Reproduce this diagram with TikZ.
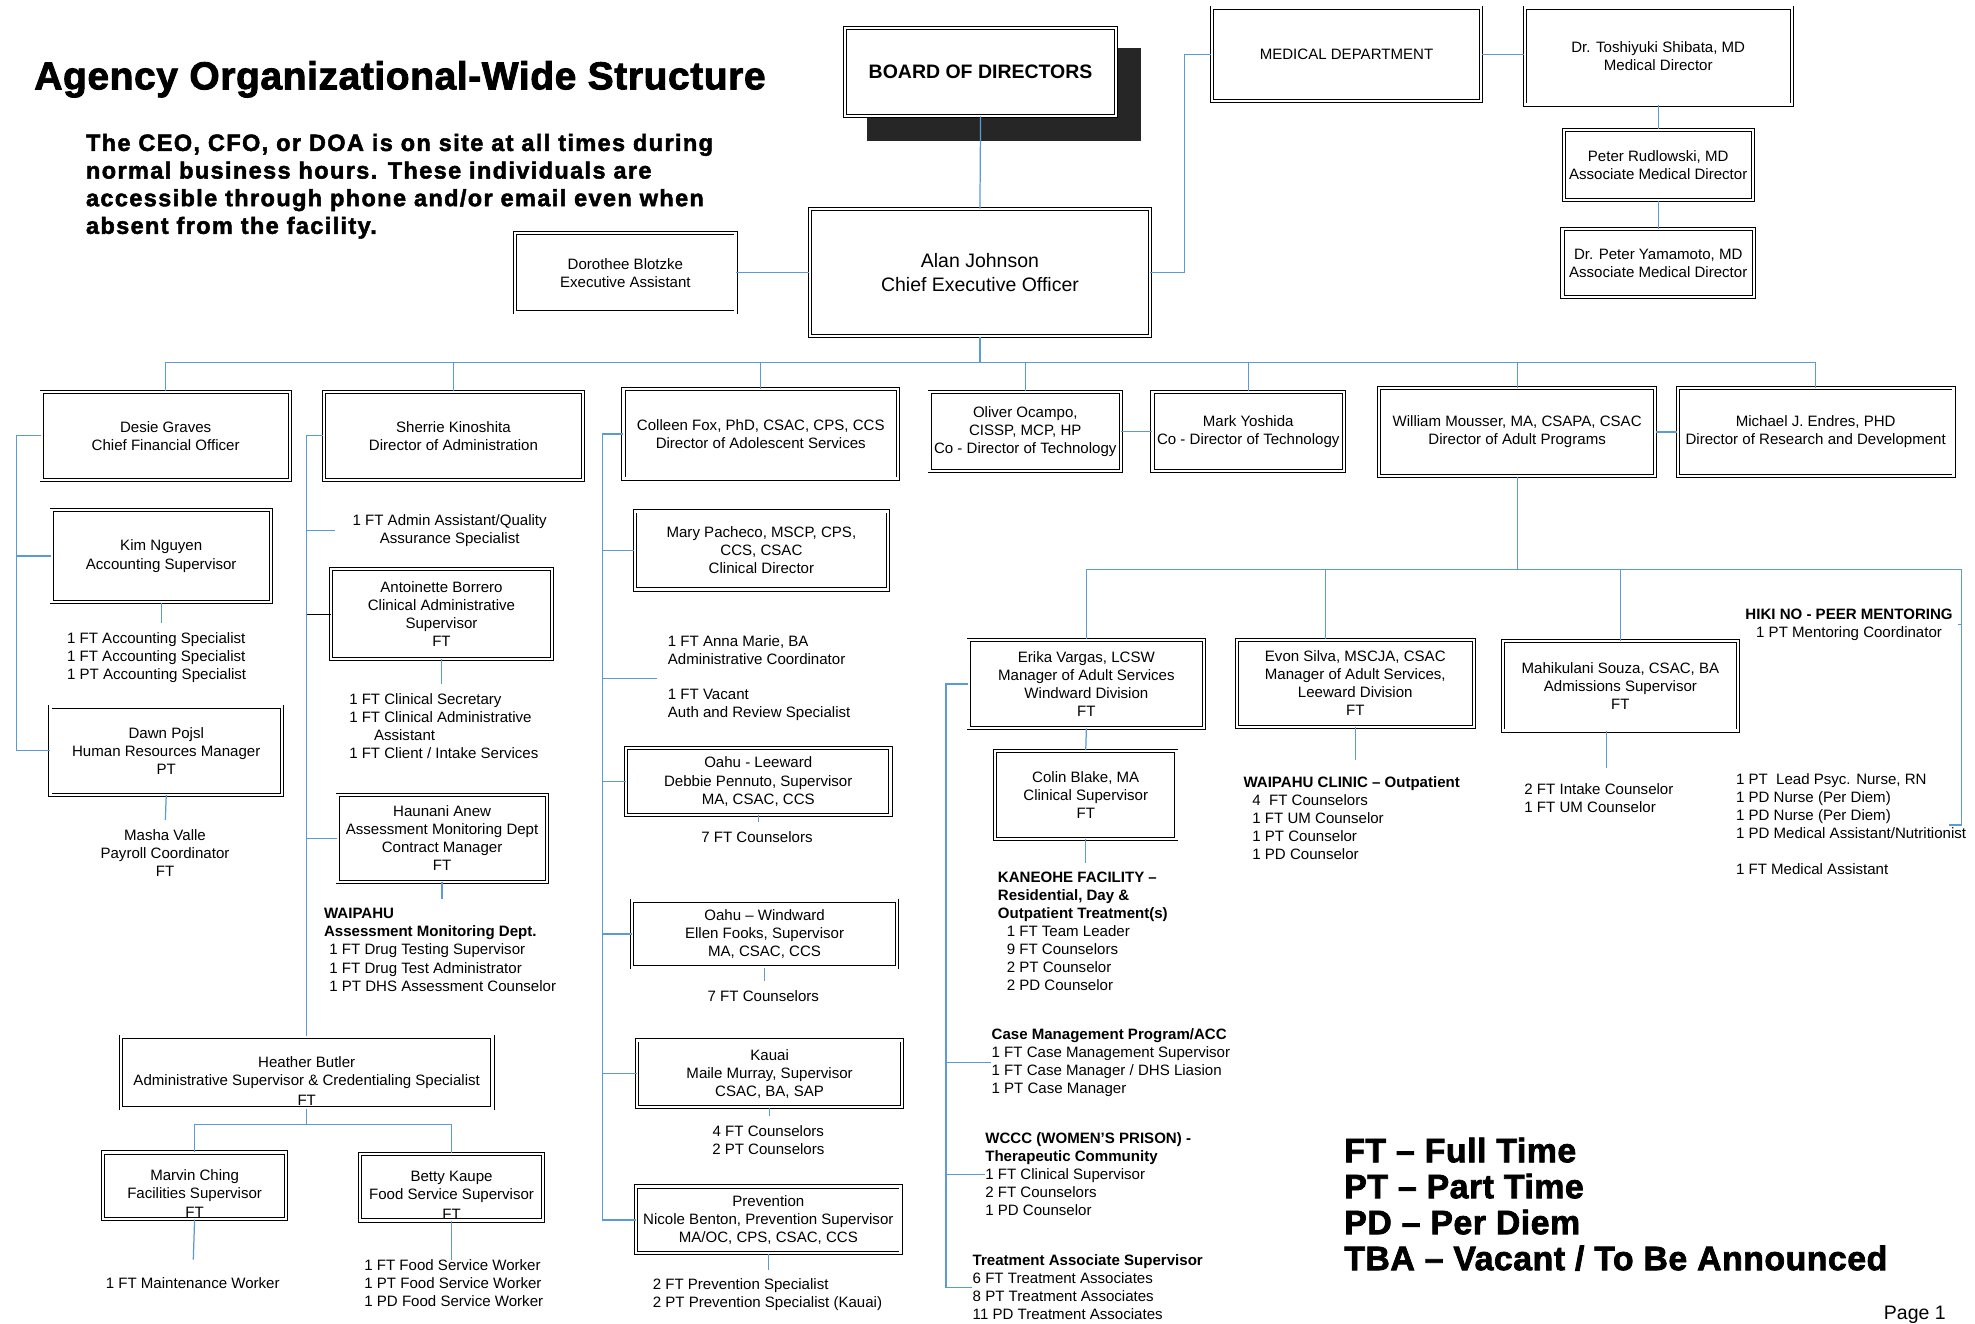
\documentclass[tikz,border=0pt]{standalone}
\usepackage{fontspec}
\setmainfont{Liberation Sans}
\newfontfamily\titlefont[FakeBold=2.2,LetterSpace=1.5]{Liberation Sans Bold}
\newfontfamily\noticefont[FakeBold=2,LetterSpace=5.7]{Liberation Sans Bold}
\newfontfamily\legendfont[FakeBold=2.2,LetterSpace=1.5]{Liberation Sans Bold}
\usetikzlibrary{calc}
\definecolor{linkblue}{RGB}{91,155,213}
\newcommand{\boxfont}{\fontsize{8.5}{10.2}\selectfont}
\tikzset{
  orgbox/.style 2 args={draw, line width=0.5pt, double, double distance=1.3pt,
    fill=white, align=center, inner sep=1pt, font=\boxfont,
    minimum width={#1*0.025cm}, minimum height={#2*0.025cm}},
  link/.style={draw=linkblue, line width=0.7pt},
  stub/.style={link, shorten >=5pt},
  staff/.style={font=\boxfont, inner sep=0pt, align=left, anchor=north west},
  staffc/.style={font=\boxfont, inner sep=0pt, align=center, anchor=north},
}

\begin{document}
\begin{tikzpicture}[x=0.025cm, y=-0.025cm]
  \fill[white] (0,0) rectangle (1568,1051);
  \useasboundingbox (0,0) rectangle (1568,1051);

  % heading and legend
  \node[anchor=west, inner sep=0pt, font=\titlefont\fontsize{22}{26}\selectfont] (title) at (27,63)
    {Agency Organizational-Wide Structure};
  \node[anchor=north west, inner sep=0pt, align=left, font=\noticefont\fontsize{13.3}{15.6}\selectfont] (notice) at (68,106)
    {The CEO, CFO, or DOA is on site at all times during\\
     normal business hours. These individuals are\\
     accessible through phone and/or email even when\\
     absent from the facility.};
  \node[anchor=north west, inner sep=0pt, align=left, font=\legendfont\fontsize{19.1}{20.3}\selectfont] (legend) at (1067,903)
    {FT – Full Time\\ PT – Part Time\\ PD – Per Diem\\ TBA – Vacant / To Be Announced};
  \node[anchor=south east, inner sep=0pt, font=\fontsize{11}{13}\selectfont] (pagenum) at (1545,1051) {Page 1};

  % top of the chart
  \fill[black!85] (688,38) rectangle (906,112);
  \node[orgbox={215}{70}, font=\bfseries\fontsize{11}{13}\selectfont] (board) at (778.5,57) {BOARD OF DIRECTORS};
  \node[orgbox={270}{101}, font=\fontsize{11}{13.5}\selectfont] (ceo) at (778,216.5) {Alan Johnson\\ Chief Executive Officer};
  \node[orgbox={175}{63}] (dorothee) at (496.5,216.5) {Dorothee Blotzke\\ Executive Assistant};
  \node[orgbox={214}{74}] (meddept) at (1069,43) {MEDICAL DEPARTMENT};
  \node[orgbox={212}{77}] (shibata) at (1316.5,44.5) {Dr. Toshiyuki Shibata, MD\\ Medical Director};
  \node[orgbox={150}{56}] (rudlowski) at (1316.5,131) {Peter Rudlowski, MD\\ Associate Medical Director};
  \node[orgbox={152}{54}] (yamamoto) at (1316.5,209) {Dr. Peter Yamamoto, MD\\ Associate Medical Director};

  \draw[link] (board.south) -- (ceo.north);
  \draw[link] (dorothee.east) -- (ceo.west);
  \draw[link] (ceo.east) -- ++(27,0) |- (meddept.west);
  \draw[link] (meddept.east) -- (meddept.east -| shibata.west);
  \draw[link] (shibata.south) -- (rudlowski.north);
  \draw[link] (rudlowski.south) -- (yamamoto.north);

  % directors
  \node[orgbox={197}{70}] (desie) at (131.5,346) {Desie Graves\\ Chief Financial Officer};
  \node[orgbox={206}{70}] (sherrie) at (360,346) {Sherrie Kinoshita\\ Director of Administration};
  \node[orgbox={218}{71}] (colleen) at (604,344.5) {Colleen Fox, PhD, CSAC, CPS, CCS\\ Director of Adolescent Services};
  \node[orgbox={152}{63}] (oliver) at (814,342.5) {Oliver Ocampo,\\ CISSP, MCP, HP\\ Co - Director of Technology};
  \node[orgbox={152}{63}] (mark) at (991,342.5) {Mark Yoshida\\ Co - Director of Technology};
  \node[orgbox={219}{70}] (william) at (1204.5,343) {William Mousser, MA, CSAPA, CSAC\\ Director of Adult Programs};
  \node[orgbox={219}{70}] (michael) at (1441.5,343) {Michael J. Endres, PHD\\ Director of Research and Development};

  \coordinate (topbus) at (778,288);
  \draw[link] (ceo.south) -- (topbus);
  \draw[link] (desie.north) |- (topbus) -| (michael.north);
  \foreach \n in {sherrie,colleen,oliver,mark,william}
    \draw[link] (\n.north) -- (\n.north |- topbus);
  \draw[link] (oliver.east) -- (mark.west);
  \draw[link] (william.east) -- (michael.west);

  % finance
  \node[orgbox={174}{73}] (kim) at (128,441.5) {Kim Nguyen\\ Accounting Supervisor};
  \node[staff] (kimstaff) at (53,502) {1 FT Accounting Specialist\\ 1 FT Accounting Specialist\\ 1 PT Accounting Specialist};
  \node[orgbox={184}{70}] (dawn) at (132,596) {Dawn Pojsl\\ Human Resources Manager\\ PT};
  \node[staffc] (masha) at (131,658) {Masha Valle\\ Payroll Coordinator\\ FT};

  \coordinate (cfospine) at (13,346);
  \draw[link] (desie.west) -- (cfospine) |- (dawn.west);
  \draw[link] (kim.west) -- (kim.west -| cfospine);
  \draw[stub] (kim.south) -- (kim.south |- kimstaff.north);
  \draw[stub] (dawn.south) -- (masha.north);

  % administration
  \node[staffc] (adminqa) at (357,408) {1 FT Admin Assistant/Quality\\ Assurance Specialist};
  \node[orgbox={175}{71}] (antoinette) at (350.5,487.5) {Antoinette Borrero\\ Clinical Administrative\\ Supervisor\\ FT};
  \node[staff] (antstaff) at (277,550) {1 FT Clinical Secretary\\ 1 FT Clinical Administrative\\ \hspace*{14pt}Assistant\\ 1 FT Client / Intake Services};
  \node[orgbox={166}{69}] (haunani) at (351,665.5) {Haunani Anew\\ Assessment Monitoring Dept\\ Contract Manager\\ FT};
  \node[staff] (waipahu) at (257,721) {\textbf{WAIPAHU}\\ \textbf{Assessment Monitoring Dept.}\\
    \hspace*{3pt}1 FT Drug Testing Supervisor\\ \hspace*{3pt}1 FT Drug Test Administrator\\ \hspace*{3pt}1 PT DHS Assessment Counselor};
  \node[orgbox={295}{57}] (heather) at (243.5,851.5) {Heather Butler\\ Administrative Supervisor \& Credentialing Specialist};
  \node[font=\boxfont, inner sep=0pt] (heatherft) at ([yshift=5pt]heather.south) {FT};
  \node[orgbox={145}{53}] (marvin) at (154.5,941.5) {Marvin Ching\\ Facilities Supervisor};
  \node[font=\boxfont, inner sep=0pt] (marvinft) at ([yshift=4pt]marvin.south) {FT};
  \node[orgbox={145}{53}] (betty) at (358.5,942.5) {Betty Kaupe\\ Food Service Supervisor};
  \node[font=\boxfont, inner sep=0pt] (bettyft) at ([yshift=4pt]betty.south) {FT};
  \node[staffc] (maint) at (153,1014) {1 FT Maintenance Worker};
  \node[staff] (foodstaff) at (289,1000) {1 FT Food Service Worker\\ 1 PT Food Service Worker\\ 1 PD Food Service Worker};

  \coordinate (adminspine) at (243.5,346);
  \draw[link] (sherrie.west) -- (adminspine) -- (heather.north);
  \draw[link] (adminqa.west -| adminspine) -- ([xshift=-10pt]adminqa.west);
  \draw (antoinette.west -| adminspine) -- (antoinette.west);
  \draw[link] (haunani.west -| adminspine) -- (haunani.west);
  \draw[stub] (antoinette.south) -- (antoinette.south |- antstaff.north);
  \draw[stub] (haunani.south) -- (haunani.south |- waipahu.north);
  \coordinate (heatherbus) at (243.5,893);
  \draw[link] (heather.south) -- (heatherbus);
  \draw[link] (marvin.north) |- (heatherbus) -| (betty.north);
  \draw[stub, shorten >=10pt] (marvin.south) -- (maint.north);
  \draw[link] (betty.south) -- (betty.south |- foodstaff.north);

  % adolescent services
  \node[orgbox={201}{62}] (mary) at (604.5,437) {Mary Pacheco, MSCP, CPS,\\ CCS, CSAC\\ Clinical Director};
  \node[staff] (annamarie) at (530,504) {1 FT Anna Marie, BA\\ Administrative Coordinator\\[10pt] 1 FT Vacant\\ Auth and Review Specialist};
  \node[orgbox={210}{53}] (leeward) at (602,620.5) {Oahu - Leeward\\ Debbie Pennuto, Supervisor\\ MA, CSAC, CCS};
  \node[staffc] (leewardstaff) at (601,660) {7 FT Counselors};
  \node[orgbox={210}{53}] (windward) at (607,741.5) {Oahu – Windward\\ Ellen Fooks, Supervisor\\ MA, CSAC, CCS};
  \node[staffc] (windwardstaff) at (606,786) {7 FT Counselors};
  \node[orgbox={210}{53}] (kauai) at (611,852.5) {Kauai\\ Maile Murray, Supervisor\\ CSAC, BA, SAP};
  \node[staffc] (kauaistaff) at (610,893) {4 FT Counselors\\ 2 PT Counselors};
  \node[orgbox={210}{53}] (prevention) at (610,968.5) {Prevention\\ Nicole Benton, Prevention Supervisor\\ MA/OC, CPS, CSAC, CCS};
  \node[staff] (preventionstaff) at (518,1015) {2 FT Prevention Specialist\\ 2 PT Prevention Specialist (Kauai)};

  \coordinate (adolspine) at (478.5,344.5);
  \draw[link] (colleen.west) -- (adolspine) |- (prevention.west);
  \foreach \n in {mary,leeward,windward,kauai}
    \draw[link] (\n.west -| adolspine) -- (\n.west);
  \draw[link] (annamarie.west -| adolspine) -- ([xshift=-6pt]annamarie.west);
  \foreach \n in {leeward,windward,kauai,prevention}
    \draw[stub] (\n.south) -- (\n.south |- \n staff.north);

  % adult programs
  \node[orgbox={187}{70}] (erika) at (862.5,543) {Erika Vargas, LCSW\\ Manager of Adult Services\\ Windward Division\\ FT};
  \node[orgbox={144}{70}] (colin) at (862,631) {Colin Blake, MA\\ Clinical Supervisor\\ FT};
  \node[staff] (kaneohe) at (792,692) {\textbf{KANEOHE FACILITY –}\\ \textbf{Residential, Day \&}\\ \textbf{Outpatient Treatment(s)}\\
    \hspace*{5pt}1 FT Team Leader\\ \hspace*{5pt}9 FT Counselors\\ \hspace*{5pt}2 PT Counselor\\ \hspace*{5pt}2 PD Counselor};
  \node[staff] (casemgmt) at (787,816) {\textbf{Case Management Program/ACC}\\ 1 FT Case Management Supervisor\\
    1 FT Case Manager / DHS Liasion\\ 1 PT Case Manager};
  \node[staff] (wccc) at (782,899) {\textbf{WCCC (WOMEN'S PRISON) -}\\ \textbf{Therapeutic Community}\\
    1 FT Clinical Supervisor\\ 2 FT Counselors\\ 1 PD Counselor};
  \node[staff] (treatassoc) at (772,996) {\textbf{Treatment Associate Supervisor}\\ 6 FT Treatment Associates\\
    8 PT Treatment Associates\\ 11 PD Treatment Associates};
  \node[orgbox={188}{69}] (evon) at (1076,542.5) {Evon Silva, MSCJA, CSAC\\ Manager of Adult Services,\\ Leeward Division\\ FT};
  \node[staff] (waipahuclinic) at (987,616) {\textbf{WAIPAHU CLINIC – Outpatient}\\ \hspace*{5pt}4\ \ FT Counselors\\
    \hspace*{5pt}1 FT UM Counselor\\ \hspace*{5pt}1 PT Counselor\\ \hspace*{5pt}1 PD Counselor};
  \node[orgbox={187}{71}] (mahikulani) at (1286.5,544.5) {Mahikulani Souza, CSAC, BA\\ Admissions Supervisor\\ FT};
  \node[staff] (intake) at (1210,622) {2 FT Intake Counselor\\ 1 FT UM Counselor};
  \node[staffc] (hikino) at (1468,483) {\textbf{HIKI NO - PEER MENTORING}\\ 1 PT Mentoring Coordinator};
  \node[staff] (nursing) at (1378,614) {1 PT\ \ Lead Psyc. Nurse, RN\\ 1 PD Nurse (Per Diem)\\ 1 PD Nurse (Per Diem)\\
    1 PD Medical Assistant/Nutritionist\\[10pt] 1 FT Medical Assistant};

  \coordinate (adultbus) at (1204.5,452);
  \coordinate (rightbus) at (1557,452);
  \coordinate (nurseend) at (1547,655);
  \draw[link] (william.south) -- (adultbus);
  \draw[link] (erika.north) |- (rightbus) |- (nurseend);
  \draw[link] ([xshift=-17pt]evon.north) -- ([xshift=-17pt]evon.north |- adultbus);
  \draw[link] (mahikulani.north) -- (mahikulani.north |- adultbus);
  \draw[link] (hikino.east -| rightbus) -- ([xshift=3pt]hikino.east);
  \draw[link] (erika.south) -- (colin.north);
  \draw[stub] (colin.south) -- (colin.south |- kaneohe.north);
  \draw[stub, shorten >=9pt] (evon.south) -- (evon.south |- waipahuclinic.north);
  \draw[stub, shorten >=9pt] ([xshift=-8pt]mahikulani.south) -- ([xshift=-8pt]mahikulani.south |- intake.north);

  \coordinate (adultspine) at (751,543);
  \draw[link] (erika.west) -- (adultspine) |- (treatassoc.west);
  \foreach \n in {casemgmt,wccc}
    \draw[link] (\n.west -| adultspine) -- (\n.west);
\end{tikzpicture}
\end{document}
